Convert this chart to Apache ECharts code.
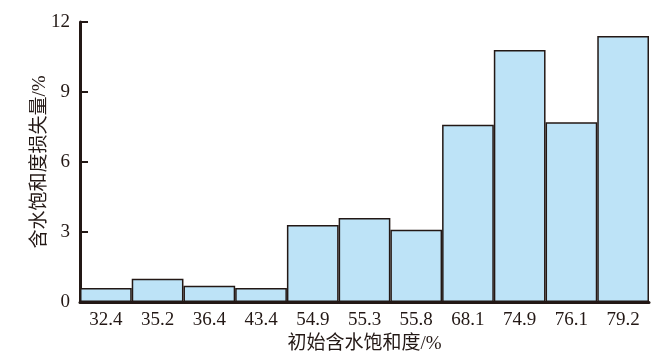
<!DOCTYPE html>
<html><head><meta charset="utf-8">
<script src="https://cdn.jsdelivr.net/npm/echarts@6/dist/echarts.min.js"></script>
<style>html,body{margin:0;padding:0;background:#fff}#c{width:660px;height:359px}</style>
</head><body><div id="c"></div>
<script>
const categories = ['32.4','35.2','36.4','43.4','54.9','55.3','55.8','68.1','74.9','76.1','79.2'];
const lossValues = [0.6, 1.0, 0.7, 0.6, 3.3, 3.6, 3.1, 7.6, 10.8, 7.7, 11.4];
const yTicks = { min: 0, max: 12, interval: 3 };
const xName = '初始含水饱和度/%';
const yName = '含水饱和度损失量/%';

const FONT = '"Liberation Serif","Times New Roman","Noto Sans CJK SC",serif';
const chart = echarts.init(document.getElementById('c'));
chart.setOption({
  animation: false,
  grid: { left: 80, right: 11, top: 22, bottom: 57 },
  xAxis: {
    type: 'category', data: categories, boundaryGap: true,
    name: xName, nameLocation: 'middle', nameGap: 33, nameMoveOverlap: false,
    nameTextStyle: { fontFamily: FONT, fontSize: 19, color: '#231815' },
    axisLine: { lineStyle: { color: '#231815', width: 3 } },
    axisTick: { inside: true, length: 5, lineStyle: { color: '#231815', width: 2 } },
    axisLabel: { fontFamily: FONT, fontSize: 19, color: '#231815', margin: 9 }
  },
  yAxis: {
    type: 'value', min: yTicks.min, max: yTicks.max, interval: yTicks.interval,
    name: yName, nameLocation: 'middle', nameGap: 30, nameRotate: 90, nameMoveOverlap: false,
    nameTextStyle: { fontFamily: FONT, fontSize: 19, color: '#231815' },
    axisLine: { show: true, lineStyle: { color: '#231815', width: 3 } },
    axisTick: { show: true, inside: true, length: 8, lineStyle: { color: '#231815', width: 2 } },
    axisLabel: { fontFamily: FONT, fontSize: 19, color: '#231815', margin: 10 },
    splitLine: { show: false }
  },
  series: [{
    type: 'bar', data: lossValues, barCategoryGap: 0,
    itemStyle: { color: '#BDE3F7', borderColor: '#231815', borderWidth: 1.5 }
  }]
});
</script></body></html>
